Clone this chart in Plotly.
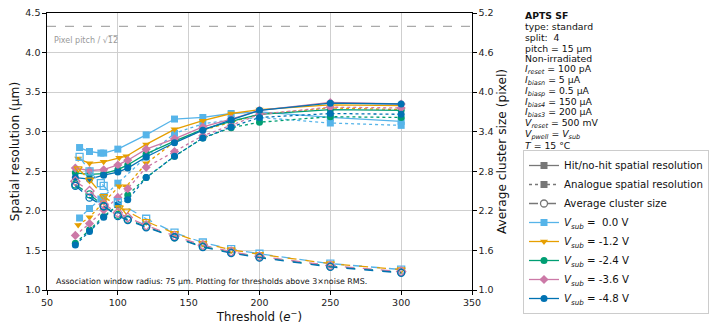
import numpy as np
import plotly.graph_objects as go

# ---------------- data ----------------
PITCH_UM = 15.0

vsub_labels = [" 0.0", "-1.2", "-2.4", "-3.6", "-4.8"]

thr_v00 = [73, 80, 88, 90, 100, 120, 140, 160, 180, 200, 250, 300]
hit_v00 = [2.80, 2.75, 2.73, 2.73, 2.78, 2.96, 3.16, 3.18, 3.23, 3.25, 3.18, 3.13]
ana_v00 = [1.91, 2.03, 2.15, 2.18, 2.35, 2.68, 2.98, 3.10, 3.15, 3.18, 3.11, 3.08]
cls_v00 = [3.02, 2.80, 2.62, 2.58, 2.33, 2.08, 1.87, 1.72, 1.62, 1.55, 1.40, 1.31]

thr_v12 = [72, 80, 90, 101, 106, 120, 140, 160, 180, 200, 250, 300]
hit_v12 = [2.66, 2.60, 2.62, 2.67, 2.69, 2.84, 3.03, 3.14, 3.23, 3.28, 3.34, 3.33]
ana_v12 = [1.82, 1.92, 2.11, 2.31, 2.31, 2.60, 2.87, 3.02, 3.12, 3.22, 3.30, 3.28]
cls_v12 = [2.84, 2.67, 2.42, 2.25, 2.20, 2.04, 1.86, 1.71, 1.61, 1.54, 1.40, 1.31]

thr_v24 = [70, 80, 90, 100, 107, 120, 140, 160, 180, 200, 250, 300]
hit_v24 = [2.48, 2.46, 2.47, 2.52, 2.58, 2.72, 2.88, 3.03, 3.13, 3.22, 3.28, 3.27]
ana_v24 = [1.59, 1.76, 1.93, 2.07, 2.20, 2.42, 2.69, 2.92, 3.05, 3.12, 3.19, 3.18]
cls_v24 = [2.60, 2.45, 2.27, 2.14, 2.07, 1.96, 1.80, 1.66, 1.57, 1.50, 1.36, 1.27]

thr_v36 = [70, 80, 90, 100, 107, 120, 140, 160, 180, 200, 250, 300]
hit_v36 = [2.54, 2.51, 2.52, 2.58, 2.64, 2.78, 2.91, 3.06, 3.16, 3.27, 3.37, 3.35]
ana_v36 = [1.69, 1.84, 2.01, 2.17, 2.28, 2.55, 2.75, 2.95, 3.08, 3.22, 3.31, 3.30]
cls_v36 = [2.65, 2.50, 2.30, 2.17, 2.10, 1.98, 1.82, 1.68, 1.58, 1.51, 1.37, 1.28]

thr_v48 = [70, 80, 90, 100, 107, 120, 140, 160, 180, 200, 250, 300]
hit_v48 = [2.42, 2.40, 2.45, 2.49, 2.54, 2.68, 2.86, 3.02, 3.15, 3.27, 3.36, 3.35]
ana_v48 = [1.57, 1.74, 1.92, 2.08, 2.14, 2.42, 2.69, 2.92, 3.06, 3.18, 3.23, 3.22]
cls_v48 = [2.58, 2.40, 2.27, 2.12, 2.06, 1.95, 1.80, 1.65, 1.56, 1.49, 1.35, 1.26]

x_ticks = [50, 100, 150, 200, 250, 300, 350]
y_left_ticks = [1.0, 1.5, 2.0, 2.5, 3.0, 3.5, 4.0, 4.5]
y_right_ticks = [1.0, 1.6, 2.2, 2.8, 3.4, 4.0, 4.6, 5.2]

info_lines = [
    "<b>APTS SF</b>",
    "type: standard",
    "split:  4",
    "pitch = 15 µm",
    "Non-irradiated",
    "<i>I</i><sub><i>reset</i></sub> = 100 pA",
    "<i>I</i><sub><i>biasn</i></sub> = 5 µA",
    "<i>I</i><sub><i>biasp</i></sub> = 0.5 µA",
    "<i>I</i><sub><i>bias4</i></sub> = 150 µA",
    "<i>I</i><sub><i>bias3</i></sub> = 200 µA",
    "<i>V</i><sub><i>reset</i></sub> = 500 mV",
    "<i>V</i><sub><i>pwell</i></sub> = <i>V</i><sub><i>sub</i></sub>",
    "<i>T</i> = 15 °C",
]

# ---------------- styling ----------------
colors = ["#56B4E9", "#E69F00", "#009E73", "#CC79A7", "#0072B2"]
symbols = ["square", "triangle-down", "circle", "diamond", "circle"]
FONT = "DejaVu Sans"

series = [
    (thr_v00, hit_v00, ana_v00, cls_v00),
    (thr_v12, hit_v12, ana_v12, cls_v12),
    (thr_v24, hit_v24, ana_v24, cls_v24),
    (thr_v36, hit_v36, ana_v36, cls_v36),
    (thr_v48, hit_v48, ana_v48, cls_v48),
]

fig = go.Figure()

for i, (thr, hit, ana, cls) in enumerate(series):
    c = colors[i]
    s = symbols[i]
    fig.add_trace(go.Scatter(
        x=thr, y=hit, mode="lines+markers", showlegend=False,
        line=dict(color=c, width=1.3, dash="solid"),
        marker=dict(symbol=s, size=7, color=c)))
    fig.add_trace(go.Scatter(
        x=thr, y=ana, mode="lines+markers", showlegend=False,
        line=dict(color=c, width=1.3, dash="dot"),
        marker=dict(symbol=s, size=7, color=c)))
    fig.add_trace(go.Scatter(
        x=thr, y=cls, mode="lines+markers", showlegend=False, yaxis="y2",
        line=dict(color=c, width=1.3, dash="dash"),
        marker=dict(symbol=s + "-open", size=7, color=c, line=dict(width=1.3))))

# legend-only entries
gray = "#777777"
fig.add_trace(go.Scatter(x=[None], y=[None], mode="lines+markers",
                         name="Hit/no-hit spatial resolution",
                         line=dict(color=gray, width=1.3),
                         marker=dict(symbol="square", size=7, color=gray)))
fig.add_trace(go.Scatter(x=[None], y=[None], mode="lines+markers",
                         name="Analogue spatial resolution",
                         line=dict(color=gray, width=1.3, dash="dot"),
                         marker=dict(symbol="square", size=7, color=gray)))
fig.add_trace(go.Scatter(x=[None], y=[None], mode="lines+markers",
                         name="Average cluster size",
                         line=dict(color=gray, width=1.3, dash="dash"),
                         marker=dict(symbol="circle-open", size=7, color=gray,
                                     line=dict(width=1.3))))
for i, lab in enumerate(vsub_labels):
    fig.add_trace(go.Scatter(x=[None], y=[None], mode="lines+markers",
                             name="<i>V</i><sub><i>sub</i></sub> = %s V" % lab,
                             line=dict(color=colors[i], width=1.3),
                             marker=dict(symbol=symbols[i], size=7, color=colors[i])))

# pixel pitch / sqrt(12) line
pp_line = PITCH_UM / np.sqrt(12)
fig.add_shape(type="line", xref="paper", x0=0, x1=1, yref="y", y0=pp_line, y1=pp_line,
              line=dict(color="#aaaaaa", width=1.3, dash="dash"))
fig.add_annotation(xref="paper", x=0.011, yref="y", y=pp_line, yshift=-7,
                   xanchor="left", yanchor="top", showarrow=False,
                   text="Pixel pitch / √1\u03052\u0305",
                   font=dict(family=FONT, size=8, color="#999999"))

fig.add_annotation(xref="paper", x=0.017, yref="paper", y=0.006,
                   xanchor="left", yanchor="bottom", showarrow=False,
                   text="Association window radius: 75 µm. Plotting for thresholds above 3×noise RMS.",
                   font=dict(family=FONT, size=7.9, color="#111111"))

# right-hand info block
plot_top, plot_h, plot_l, plot_w = 13, 277, 47, 425
for k, line in enumerate(info_lines):
    ypx = 15.7 + 10.8 * k
    fig.add_annotation(xref="paper", x=(523 - plot_l) / plot_w,
                       yref="paper", y=1 - (ypx - plot_top) / plot_h,
                       xanchor="left", yanchor="middle", showarrow=False,
                       text=line, font=dict(family=FONT, size=9.3, color="#111111"))

axis_common = dict(showline=True, linecolor="black", linewidth=1.3, ticks="outside",
                   ticklen=3.5, tickwidth=1, tickcolor="black", automargin=False,
                   tickfont=dict(family=FONT, size=9.5, color="#222222"), zeroline=False)

fig.update_layout(
    width=711, height=325,
    margin=dict(l=plot_l, r=711 - plot_l - plot_w, t=plot_top, b=325 - plot_top - plot_h,
                autoexpand=False),
    paper_bgcolor="white", plot_bgcolor="white",
    font=dict(family=FONT, size=10, color="#111111"),
    xaxis=dict(range=[50, 350], tickvals=x_ticks, mirror=True,
               showgrid=True, gridcolor="#cfcfcf", gridwidth=1.3,
               title=dict(text="Threshold (<i>e</i><sup>−</sup>)", standoff=0,
                          font=dict(family=FONT, size=11.8)),
               **axis_common),
    yaxis=dict(range=[1.0, 4.5], tickvals=y_left_ticks, tickformat=".1f",
               showgrid=True, gridcolor="#cfcfcf", gridwidth=1.3,
               title=dict(text="Spatial resolution (µm)", standoff=3,
                          font=dict(family=FONT, size=12.2)),
               **axis_common),
    yaxis2=dict(range=[1.0, 5.2], tickvals=y_right_ticks, tickformat=".1f",
                overlaying="y", side="right", showgrid=False,
                title=dict(text="Average cluster size (pixel)", standoff=4,
                           font=dict(family=FONT, size=12.2)),
                **axis_common),
    legend=dict(x=(523 - plot_l) / plot_w, y=1 - (150 - plot_top) / plot_h,
                xanchor="left", yanchor="top",
                bordercolor="#cccccc", borderwidth=1, bgcolor="white",
                font=dict(family=FONT, size=10.2, color="#111111"),
                tracegroupgap=0, itemwidth=30),
)

fig.write_html("out.html", config={"displayModeBar": False},
               post_script="document.body.style.margin='0';document.body.style.overflow='hidden';")
